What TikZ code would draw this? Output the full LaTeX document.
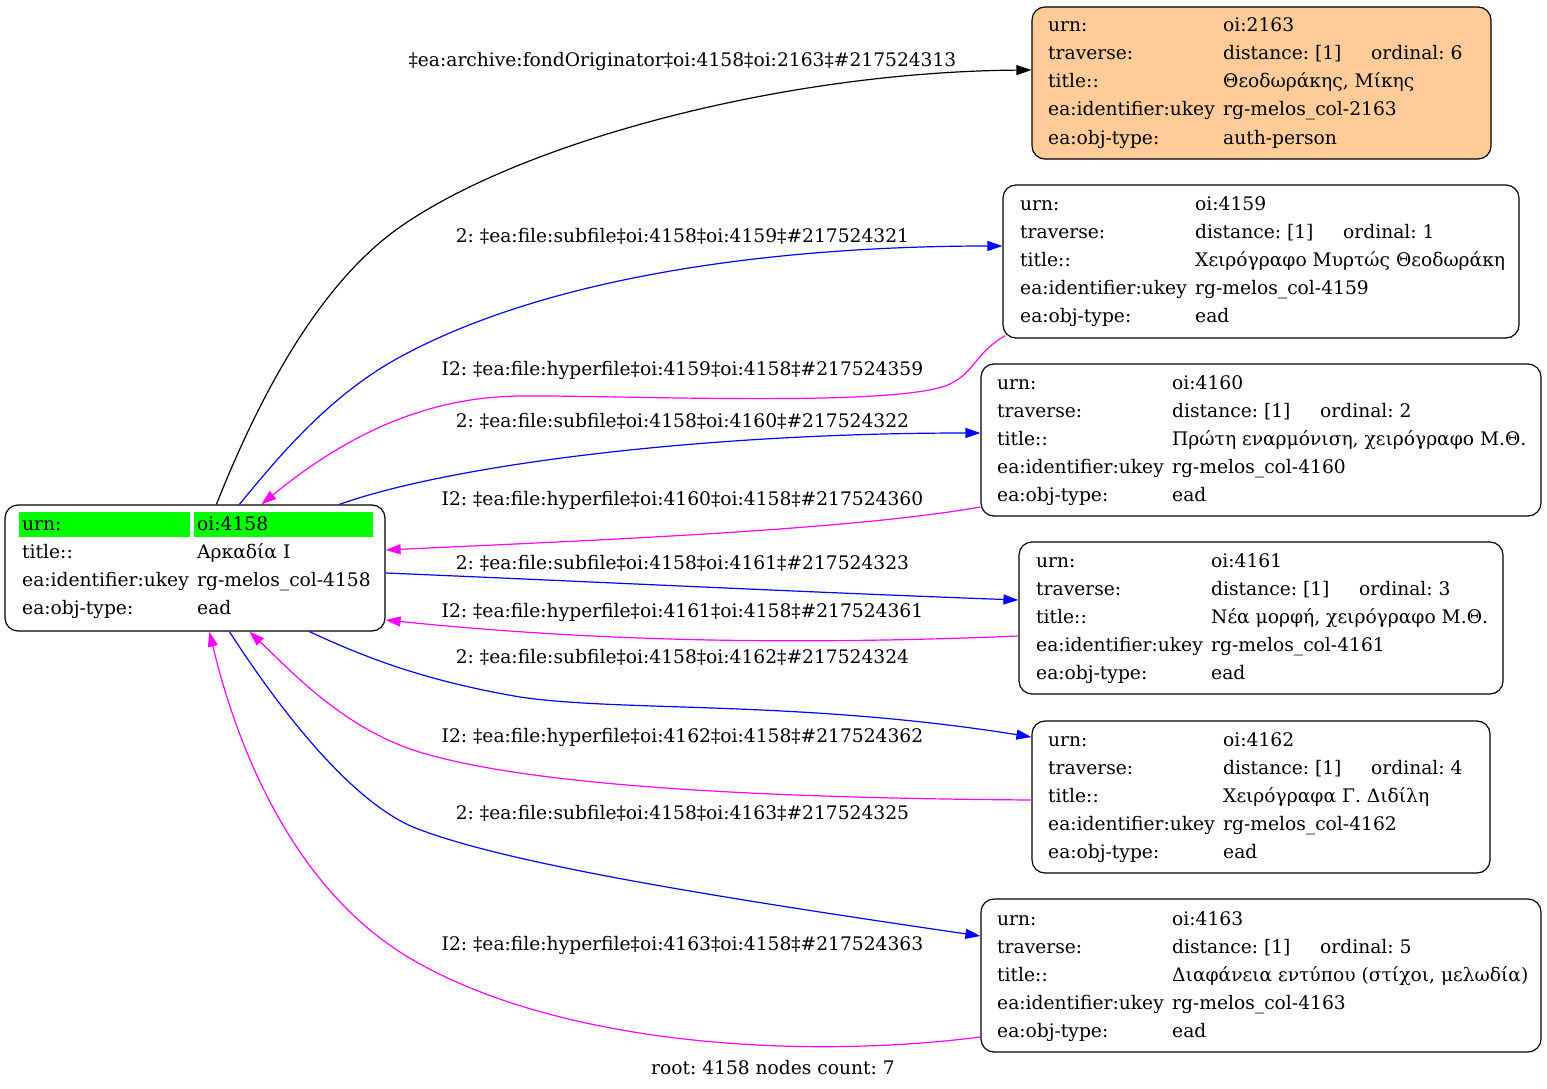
\documentclass[tikz,border=0pt]{standalone}
\usepackage{fontspec}
\setmainfont{DejaVu Serif}
\usetikzlibrary{arrows.meta,calc}
\definecolor{peach}{HTML}{FFCC99}
\definecolor{hlgreen}{HTML}{00FF00}
\definecolor{edgeblue}{RGB}{0,0,255}
\definecolor{edgemag}{RGB}{255,0,255}
\newcounter{tn}
\tikzset{
  rec/.style={draw=black, line width=1.2pt, rounded corners=13pt, inner sep=0pt},
  txt/.style={anchor=base west, inner sep=0pt, font=\fontsize{18.67}{22}\selectfont},
  lbl/.style={anchor=base, inner sep=0pt, font=\fontsize{18.67}{22}\selectfont},
  conn/.style={line width=1.2pt, -{Triangle[length=15pt,width=10pt]}},
  subc/.style={conn, draw=edgeblue},
  hypc/.style={conn, draw=edgemag},
}
\newcommand\tx[3]{\stepcounter{tn}\node[txt] (t\arabic{tn}) at (#1,#2) {#3};}
% #1 left x, #2 first baseline, #3 id, #4 ordinal, #5 title, #6 type
\newcommand\boxrows[6]{%
  \tx{#1}{#2}{urn:}\tx{#1+175}{#2}{oi:#3}%
  \tx{#1}{#2+28}{traverse:}\tx{#1+175}{#2+28}{distance: [1]}\tx{#1+323}{#2+28}{ordinal: #4}%
  \tx{#1}{#2+56}{title::}\tx{#1+175}{#2+56}{#5}%
  \tx{#1}{#2+84}{ea:identifier:ukey}\tx{#1+175}{#2+84}{rg-melos\_col-#3}%
  \tx{#1}{#2+112}{ea:obj-type:}\tx{#1+175}{#2+112}{#6}}
\begin{document}
\frenchspacing
\begin{tikzpicture}[x=1pt,y=-1pt]
\useasboundingbox (0,0) rectangle (1547,1089);
\fill[white] (0,0) rectangle (1547,1089);
% boxes
\node[rec, fill=peach, minimum width=459pt, minimum height=152pt] (n2163) at (1261.5,83) {};
\node[rec, minimum width=516pt, minimum height=153pt] (n4159) at (1261,261.5) {};
\node[rec, minimum width=560pt, minimum height=152pt] (n4160) at (1261,440) {};
\node[rec, minimum width=484pt, minimum height=152pt] (n4161) at (1261,618) {};
\node[rec, minimum width=458pt, minimum height=152pt] (n4162) at (1261,797) {};
\node[rec, minimum width=560pt, minimum height=153pt] (n4163) at (1261,975.5) {};
\node[rec, minimum width=380pt, minimum height=126pt] (n4158) at (195,568) {};
% root node contents
\fill[hlgreen] (19,512) rectangle (190,537);
\fill[hlgreen] (194,512) rectangle (373,537);
\tx{22}{530}{urn:}\tx{197}{530}{oi:4158}
\tx{22}{558}{title::}\tx{197}{558}{Αρκαδία Ι}
\tx{22}{586}{ea:identifier:ukey}\tx{197}{586}{rg-melos\_col-4158}
\tx{22}{614}{ea:obj-type:}\tx{197}{614}{ead}
% other contents
\boxrows{1048}{32}{2163}{6}{Θεοδωράκης, Μίκης}{auth-person}
\boxrows{1020}{210}{4159}{1}{Χειρόγραφο Μυρτώς Θεοδωράκη}{ead}
\boxrows{997}{389}{4160}{2}{Πρώτη εναρμόνιση, χειρόγραφο Μ.Θ.}{ead}
\boxrows{1036}{567}{4161}{3}{Νέα μορφή, χειρόγραφο Μ.Θ.}{ead}
\boxrows{1048}{746}{4162}{4}{Χειρόγραφα Γ. Διδίλη}{ead}
\boxrows{997}{925}{4163}{5}{Διαφάνεια εντύπου (στίχοι, μελωδία)}{ead}
% connectors
\draw[conn] ([xshift=212pt]n4158.north west) .. controls (250,420) and (310,290) .. (400,227)
  .. controls (520,143) and (780,72) .. ([yshift=13pt]n2163.west);
\draw[subc] ([xshift=235pt]n4158.north west) .. controls (280,455) and (330,395) .. (400,357)
  .. controls (560,270) and (800,246) .. ([yshift=15.5pt]n4159.west);
\draw[hypc] ([xshift=3pt,yshift=3pt]n4159.south west) .. controls (975,353) and (975,372) .. (950,384)
  .. controls (900,408) and (620,395) .. (520,396)
  .. controls (420,397) and (340,440) .. ([xshift=257pt]n4158.north west);
\draw[subc] ([xshift=335pt]n4158.north west) .. controls (450,465) and (700,433) .. ([yshift=7pt]n4160.west);
\draw[hypc] ([yshift=-67pt]n4160.west) .. controls (850,530) and (600,540) .. ([yshift=18pt]n4158.east);
\draw[subc] ([yshift=-5pt]n4158.east) .. controls (600,582) and (800,592) .. ([yshift=18pt]n4161.west);
\draw[hypc] ([yshift=-18pt]n4161.west) .. controls (800,645) and (600,642) .. ([yshift=-52pt]n4158.east);
\draw[subc] ([xshift=305pt]n4158.south west) .. controls (360,655) and (420,680) .. (520,697)
  .. controls (620,712) and (800,700) .. ([yshift=60pt]n4162.west);
\draw[hypc] ([yshift=-3pt]n4162.west) .. controls (750,798) and (520,785) .. (413,750)
  .. controls (340,725) and (290,670) .. ([xshift=245pt]n4158.south west);
\draw[subc] ([xshift=225pt]n4158.south west) .. controls (280,710) and (350,800) .. (413,827)
  .. controls (500,862) and (700,895) .. ([yshift=39.5pt]n4163.west);
\draw[hypc] ([yshift=-61.5pt]n4163.west) .. controls (800,1060) and (560,1045) .. (413,960)
  .. controls (300,895) and (240,760) .. ([xshift=205pt]n4158.south west);
% labels
\node[lbl] (l1) at (682.5,67) {‡ea:archive:fondOriginator‡oi:4158‡oi:2163‡\#217524313};
\node[lbl] (l2) at (682.5,242) {2: ‡ea:file:subfile‡oi:4158‡oi:4159‡\#217524321};
\node[lbl] (l3) at (682.5,375) {I2: ‡ea:file:hyperfile‡oi:4159‡oi:4158‡\#217524359};
\node[lbl] (l4) at (682.5,427) {2: ‡ea:file:subfile‡oi:4158‡oi:4160‡\#217524322};
\node[lbl] (l5) at (682.5,505) {I2: ‡ea:file:hyperfile‡oi:4160‡oi:4158‡\#217524360};
\node[lbl] (l6) at (682.5,569) {2: ‡ea:file:subfile‡oi:4158‡oi:4161‡\#217524323};
\node[lbl] (l7) at (682.5,617) {I2: ‡ea:file:hyperfile‡oi:4161‡oi:4158‡\#217524361};
\node[lbl] (l8) at (682.5,663) {2: ‡ea:file:subfile‡oi:4158‡oi:4162‡\#217524324};
\node[lbl] (l9) at (682.5,742) {I2: ‡ea:file:hyperfile‡oi:4162‡oi:4158‡\#217524362};
\node[lbl] (l10) at (682.5,819) {2: ‡ea:file:subfile‡oi:4158‡oi:4163‡\#217524325};
\node[lbl] (l11) at (682.5,950) {I2: ‡ea:file:hyperfile‡oi:4163‡oi:4158‡\#217524363};
\node[lbl] (foot) at (773,1074) {root: 4158 nodes count: 7};
\end{tikzpicture}
\end{document}
